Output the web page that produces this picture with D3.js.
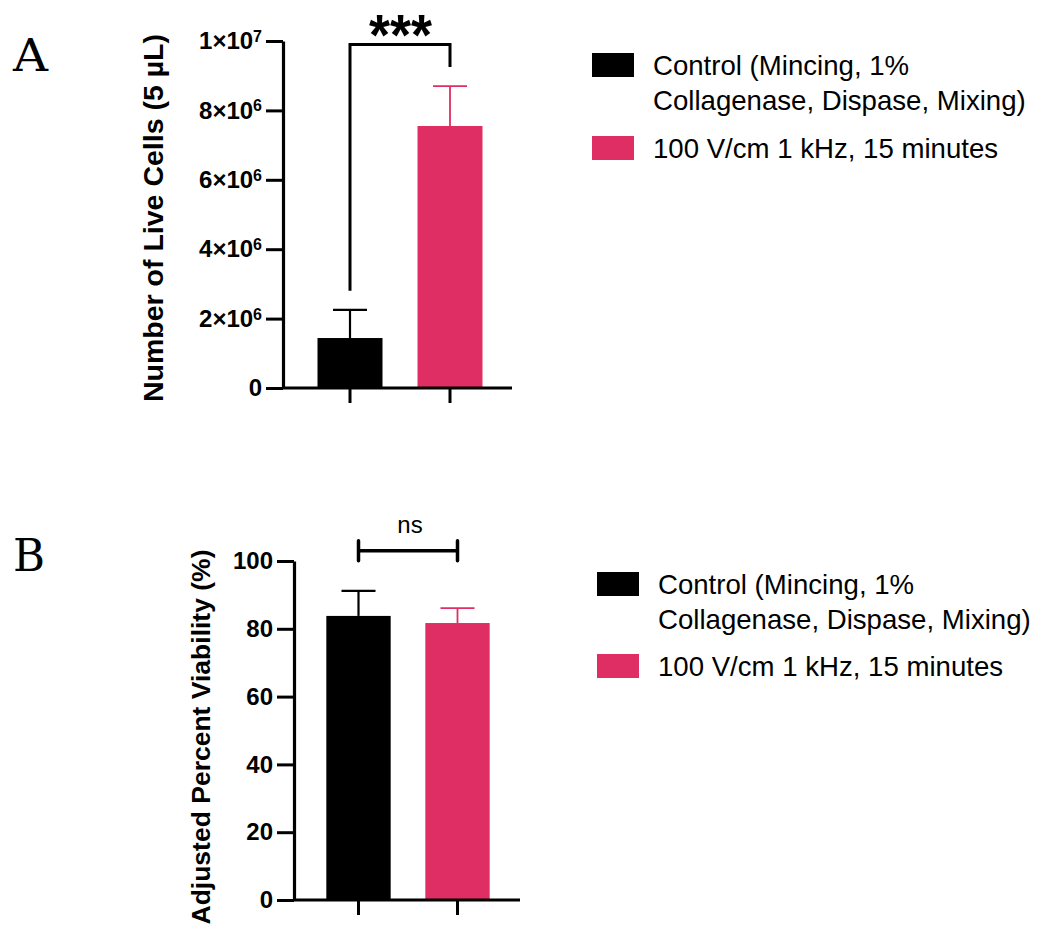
<!DOCTYPE html>
<html>
<head>
<meta charset="utf-8">
<script src="https://cdn.jsdelivr.net/npm/d3@7"></script>
<style>
  body { margin: 0; background: #fff; }
  svg { display: block; }
  text { font-family: "Liberation Sans", Arial, sans-serif; }
</style>
</head>
<body>
<svg id="chart" width="1040" height="925"></svg>
<script>
// data
const groups = ['Control', '100 V/cm 1 kHz'];
const legendLines = [['Control (Mincing, 1%', 'Collagenase, Dispase, Mixing)'], ['100 V/cm 1 kHz, 15 minutes']];
const colors = ['#000000', '#df2e63'];

const liveMean = [1.44e6, 7.55e6];
const liveSd = [0.81e6, 1.15e6];
const liveTicks = [0, 2e6, 4e6, 6e6, 8e6, 1e7];
// bracket: bar height, left leg end, right leg end
const liveBracket = [9.9e6, 2.8e6, 9.25e6];
const liveSig = '***';

const viaMean = [83.8, 81.7];
const viaSd = [7.4, 4.4];
const viaTicks = [0, 20, 40, 60, 80, 100];
const viaBracket = [103];
const viaSig = 'ns';

var svg = d3.select('#chart');

function superTick(g, v) {
    var t = d3.select(g);
    t.text(null);
    if (v === 0) { t.text('0'); return; }
    var e = Math.floor(Math.log10(v) + 1e-9);
    var m = Math.round(v / Math.pow(10, e));
    t.append('tspan').text(m + '\u00d710');
    t.append('tspan').attr('dy', '-0.45em').style('font-size', '16px').text(e);
}

function drawPanel(opt) {
    var y = d3.scaleLinear().domain(opt.domain).range([opt.y0, opt.y1]);
    var x = d3.scaleBand().domain(groups)
        .range([opt.xc[0] - 50, opt.xc[1] + 50])
        .paddingInner(0.35).paddingOuter(0.175);
    var g = svg.append('g');

    // bars
    g.selectAll('.bar')
        .data(opt.mean)
        .enter().append('rect')
        .attr('x', (d, i) => x(groups[i]))
        .attr('y', d => y(d))
        .attr('width', x.bandwidth())
        .attr('height', d => y(0) - y(d))
        .attr('fill', (d, i) => colors[i]);

    // error bars (upper only)
    var eb = g.selectAll('.err')
        .data(opt.mean)
        .enter().append('g')
        .attr('stroke', (d, i) => colors[i])
        .attr('stroke-width', (d, i) => i === 0 ? 2.2 : 1.8);
    eb.append('line')
        .attr('x1', (d, i) => x(groups[i]) + x.bandwidth() / 2)
        .attr('x2', (d, i) => x(groups[i]) + x.bandwidth() / 2)
        .attr('y1', d => y(d))
        .attr('y2', (d, i) => y(d + opt.sd[i]));
    eb.append('line')
        .attr('x1', (d, i) => x(groups[i]) + x.bandwidth() / 2 - 17)
        .attr('x2', (d, i) => x(groups[i]) + x.bandwidth() / 2 + 17)
        .attr('y1', (d, i) => y(d + opt.sd[i]))
        .attr('y2', (d, i) => y(d + opt.sd[i]));

    // y axis
    var ya = g.append('g')
        .attr('transform', 'translate(' + opt.ax + ',0)')
        .call(d3.axisLeft(y).tickValues(opt.ticks).tickSize(17).tickPadding(4).tickSizeOuter(0));
    ya.select('.domain').attr('stroke-width', 3.2);
    ya.selectAll('.tick line').attr('stroke-width', 3);
    ya.selectAll('.tick text')
        .style('font-size', '24px').style('font-weight', 'bold').attr('fill', '#000');
    if (opt.sup) ya.selectAll('.tick text').each(function(d) { superTick(this, d); });

    // x axis (no labels)
    var xa = g.append('g')
        .attr('transform', 'translate(0,' + y(0) + ')')
        .call(d3.axisBottom(x).tickSize(15).tickSizeOuter(0).tickFormat(''));
    xa.select('.domain').attr('d', 'M' + opt.ax + ',0H' + opt.xend).attr('stroke-width', 3.2);
    xa.selectAll('.tick line').attr('stroke-width', 3);

    // y axis title
    g.append('text')
        .attr('transform', 'translate(' + opt.titleX + ',' + opt.titleY + ') rotate(-90)')
        .attr('text-anchor', 'middle')
        .style('font-size', opt.titleSize + 'px')
        .style('font-weight', 'bold')
        .text(opt.title);

    // panel letter
    g.append('text')
        .attr('x', 13).attr('y', opt.letterY)
        .attr('textLength', opt.letterW).attr('lengthAdjust', 'spacingAndGlyphs')
        .style('font-family', '"DejaVu Serif", serif')
        .style('font-size', '44px')
        .text(opt.letter);

    // significance
    var c0 = x(groups[0]) + x.bandwidth() / 2, c1 = x(groups[1]) + x.bandwidth() / 2;
    var by = y(opt.bracket[0]);
    if (opt.bracket.length === 3) {
        g.append('path')
            .attr('d', 'M' + c0 + ',' + y(opt.bracket[1]) + 'V' + by + 'H' + c1 + 'V' + y(opt.bracket[2]))
            .attr('fill', 'none').attr('stroke', '#000').attr('stroke-width', 3);
        g.append('text')
            .attr('x', (c0 + c1) / 2 - 31).attr('y', by + 11)
            .attr('textLength', 63).attr('lengthAdjust', 'spacingAndGlyphs')
            .style('font-size', '58px').style('font-weight', 'bold')
            .text(opt.sig);
    } else {
        g.append('path')
            .attr('d', 'M' + c0 + ',' + (by - 10) + 'V' + (by + 10) + 'M' + c0 + ',' + by + 'H' + c1 + 'M' + c1 + ',' + (by - 10) + 'V' + (by + 10))
            .attr('fill', 'none').attr('stroke', '#000').attr('stroke-width', 3.5).attr('stroke-linecap', 'round');
        g.append('text')
            .attr('x', (c0 + c1) / 2 + 2).attr('y', by - 18)
            .attr('text-anchor', 'middle')
            .style('font-size', '24px')
            .text(opt.sig);
    }

    // legend
    var lg = g.append('g').attr('transform', 'translate(' + opt.legX + ',' + opt.legY + ')');
    var rowY = [0, opt.legRow];
    legendLines.forEach(function(lines, i) {
        lg.append('rect')
            .attr('x', 0).attr('y', rowY[i])
            .attr('width', 42).attr('height', 24)
            .attr('fill', colors[i]);
        lines.forEach(function(s, j) {
            lg.append('text')
                .attr('x', 61).attr('y', rowY[i] + 22 + j * 35)
                .style('font-size', '27.6px')
                .text(s);
        });
    });
}

drawPanel({
    domain: [0, 1e7], y0: 388, y1: 41, xc: [350, 450], ax: 283, xend: 512,
    mean: liveMean, sd: liveSd, ticks: liveTicks, sup: true,
    title: 'Number of Live Cells (5 \u00b5L)', titleX: 163, titleY: 218, titleSize: 28.5,
    letter: 'A', letterY: 71, letterW: 35, bracket: liveBracket, sig: liveSig,
    legX: 592, legY: 53, legRow: 83
});

drawPanel({
    domain: [0, 100], y0: 900, y1: 561, xc: [359, 457], ax: 294, xend: 520,
    mean: viaMean, sd: viaSd, ticks: viaTicks, sup: false,
    title: 'Adjusted Percent Viability (%)', titleX: 210, titleY: 737, titleSize: 26.5,
    letter: 'B', letterY: 571, letterW: 32, bracket: viaBracket, sig: viaSig,
    legX: 597, legY: 572, legRow: 82
});
</script>
</body>
</html>
